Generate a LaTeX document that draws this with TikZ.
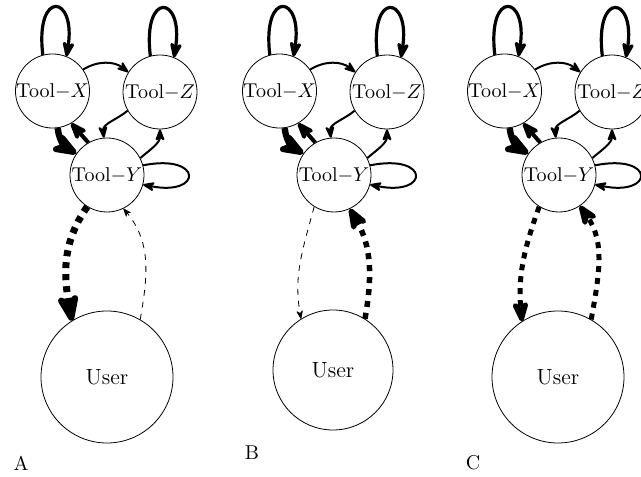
\documentclass[tikz,border=0pt]{standalone}
\usetikzlibrary{arrows.meta}
\tikzset{
	tool/.style={circle, draw, minimum size=37pt, inner sep=0pt},
	usr/.style={circle, draw, minimum size=66pt, inner sep=0pt, font=\fontsize{11}{13}\selectfont},
	>={Stealth[round]},
}
\begin{document}
\begin{tikzpicture}[x=.5pt, y=.5pt]
	\useasboundingbox (0,0) rectangle (641,476);
	%tools
	\foreach \p/\dx in {a/0,b/227,c/452}{
		\begin{scope}[shift={(\dx,0)}]
		\node[tool] (x\p) at (52.5,385) {Tool$-X$};
		\node[tool] (z\p) at (160,384) {Tool$-Z$};
		\node[tool] (y\p) at (107,301) {Tool$-Y$};
		%loops
		\draw[line width=1.6pt,->] (x\p.105) .. controls +(-8,66) and +(10,62) .. (x\p.68);
		\draw[line width=1.6pt,->] (z\p.105) .. controls +(-8,66) and +(10,62) .. (z\p.68);
		\draw[line width=1pt,->] (y\p.15) .. controls +(60,12) and +(60,-12) .. (y\p.-15);
		%between tools
		\draw[line width=1pt,->] (x\p.35) to[bend left=35] (z\p.148);
		\draw[line width=1pt,->] (z\p.210) to[out=220,in=95] (y\p.95);
		\draw[line width=1pt,->] (y\p.27) to[out=40,in=-90] (z\p.-90);
		\draw[line width=3.2pt,->] (x\p.-82) to[out=-85,in=150] (y\p.145);
		\draw[line width=2pt,->] (y\p.120) -- (x\p.-60);
		\end{scope}
	}
	%users
	\node[usr] (ua) at (107,99) {User};
	\node[usr, minimum size=60pt] (ub) at (333,106) {User};
	\node[usr] (uc) at (558,99) {User};
	%labels
	\node (la) at (21,13) {A};
	\node (lb) at (252,23) {B};
	\node (lc) at (473,13) {C};
	%user edges
	\draw[line width=3.5pt,dashed,->] (ya.238) to[out=235,in=100] (ua.122);
	\draw[dashed,->] (ua.60) to[out=80,in=-50] (ya.-64);
	\draw[dashed,->] (yb.238) to[out=255,in=100] (ub.122);
	\draw[line width=2.75pt,dashed,->] (ub.58) to[out=80,in=-60] (yb.-65);
	\draw[line width=2.5pt,dashed,->] (yc.238) to[out=250,in=95] (uc.123);
	\draw[line width=2.5pt,dashed,->] (uc.60) to[out=80,in=-55] (yc.-56);
\end{tikzpicture}
\end{document}
